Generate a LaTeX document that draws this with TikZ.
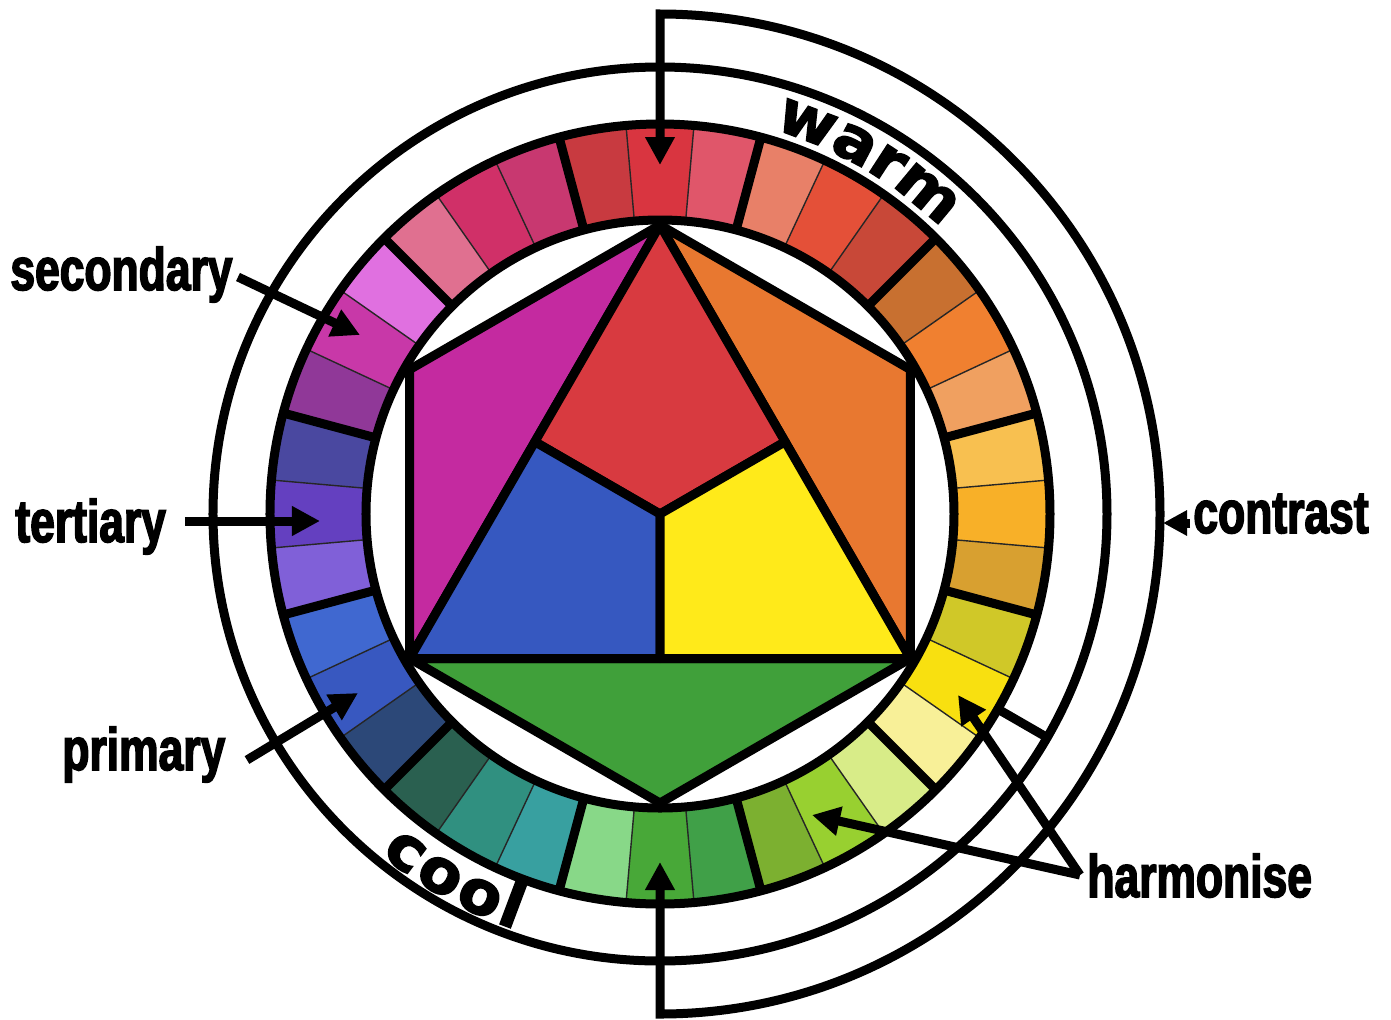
\documentclass[tikz,border=0pt]{standalone}
\usepackage{fontspec}
\usetikzlibrary{arrows.meta,calc}
\newfontfamily\lblfont[UprightFont=* Bold,FakeStretch=0.74,FakeBold=2.5]{Liberation Sans}
\newfontfamily\arcfont[UprightFont=* Bold,FakeStretch=1.05,FakeBold=2.5]{DejaVu Sans}
\definecolor{hexred}{HTML}{D83A40}
\definecolor{hexblue}{HTML}{3658C0}
\definecolor{hexyellow}{HTML}{FFEA1A}
\definecolor{hexmagenta}{HTML}{C42AA0}
\definecolor{hexorange}{HTML}{E87830}
\definecolor{hexgreen}{HTML}{40A03A}
\begin{document}
\begin{tikzpicture}[x=0.5pt,y=0.5pt,
  bold/.style={line width=4.5pt},
  thinsep/.style={line width=0.7pt, draw=black!85},
  region/.style={draw=black, line width=4.5pt, line join=round},
  arr/.style={line width=4.5pt, -{Triangle[length=14pt,width=14pt]}},
  lbl/.style={font=\lblfont\fontsize{30}{36}\selectfont, inner sep=0pt, anchor=base west},
  arcl/.style={font=\arcfont\fontsize{30}{36}\selectfont, inner sep=0pt, anchor=base},
]
\fill[white] (-660,-505) rectangle (731,514);
\useasboundingbox (-660,-505) rectangle (731,514);

% ring segments
\foreach \a/\c in {95/C83A40,85/D93540,75/E0566A,65/E88068,55/E45038,45/C84838,
  35/C87030,25/F08030,15/F0A060,5/F8C050,-5/F8B028,-15/D8A030,
  -25/D0C828,-35/F8E010,-45/F8F098,-55/D8EC88,-65/98D030,-75/7CB030,
  -85/40A048,-95/48A838,-105/88D888,-115/38A0A0,-125/309080,-135/2A6050,
  -145/2C4878,-155/3858C0,-165/4068D0,-175/8060D8,175/6440C0,165/4A48A0,
  155/903898,145/C838A8,135/E070E0,125/E07090,115/D03068,105/C83870}{
  \definecolor{segc}{HTML}{\c}
  \pgfmathsetmacro\b{\a+10}
  \fill[segc] (\a:147pt) arc[start angle=\a, end angle=\b, radius=147pt]
     -- (\b:195pt) arc[start angle=\b, end angle=\a, radius=195pt] -- cycle;
}
\foreach \a in {5,25,35,55,65,85,95,115,125,145,155,175,185,205,215,235,245,265,275,295,305,325,335,355}{
  \draw[thinsep] (\a:147pt) -- (\a:195pt);
}
\foreach \a in {15,45,...,345}{
  \draw[bold] (\a:147pt) -- (\a:195pt);
}
\draw[bold] (0,0) circle[radius=147pt];
\draw[bold] (0,0) circle[radius=195pt];

% hexagon
\coordinate (T) at (90:144.5pt);
\coordinate (UR) at (30:144.5pt);
\coordinate (LR) at (-30:144.5pt);
\coordinate (B) at (-90:144.5pt);
\coordinate (LL) at (-150:144.5pt);
\coordinate (UL) at (150:144.5pt);
\coordinate (C) at (0,0);
\coordinate (M1) at ($(T)!0.5!(LL)$);
\coordinate (M2) at ($(T)!0.5!(LR)$);
\coordinate (M3) at ($(LL)!0.5!(LR)$);
\filldraw[region, fill=hexmagenta] (T) -- (UL) -- (LL) -- cycle;
\filldraw[region, fill=hexorange] (T) -- (UR) -- (LR) -- cycle;
\filldraw[region, fill=hexgreen] (LL) -- (B) -- (LR) -- cycle;
\filldraw[region, fill=hexred] (T) -- (M1) -- (C) -- (M2) -- cycle;
\filldraw[region, fill=hexblue] (M1) -- (LL) -- (M3) -- (C) -- cycle;
\filldraw[region, fill=hexyellow] (C) -- (M3) -- (LR) -- (M2) -- cycle;

% outer circle and tick
\draw[bold] (0,0) circle[radius=223.5pt];
\draw[bold] (-30:195pt) -- (-30:223.5pt);

% contrast bracket
\coordinate (topTip) at (0,349);
\coordinate (botTip) at (0,-348);
\draw[line width=4.5pt, {Triangle[length=14pt,width=14pt]}-{Triangle[length=14pt,width=14pt]}]
  (topTip) -- (0,500) arc[start angle=90, end angle=-90, radius=250pt] -- (botTip);

% labels
\node[lbl] (sec) at (-650,224) {secondary};
\node[lbl] (ter) at (-645,-28) {tertiary};
\node[lbl] (pri) at (-598,-256) {primary};
\node[lbl] (harm) at (427,-383) {harmonise};
\node[lbl] (con) at (533,-19) {contrast};

\coordinate (secStart) at (-422,237);
\coordinate (secTip) at (-300,179);
\coordinate (terStart) at (-475,-7);
\coordinate (terTip) at (-340,-7);
\coordinate (priStart) at (-413,-246);
\coordinate (priTip) at (-302,-179);
\coordinate (harmStart) at (420,-361);
\coordinate (harmTipY) at (298,-181);
\coordinate (harmTipG) at (152,-301);
\coordinate (conStart) at (530,-9);
\coordinate (conTip) at (503,-9);

\draw[arr] (secStart) -- (secTip);
\draw[arr] (terStart) -- (terTip);
\draw[arr] (priStart) -- (priTip);
\draw[arr] (harmStart) -- (harmTipY);
\draw[arr] (harmStart) -- (harmTipG);
\draw[line width=4.5pt, -{Triangle[length=12pt,width=12pt]}] (conStart) -- (conTip);

% warm / cool
\node[arcl, rotate=-20.6] (w1) at (69.4:200.5pt) {w};
\node[arcl, rotate=-27.8] (w2) at (62.2:200.5pt) {a};
\node[arcl, rotate=-33.0] (w3) at (57.0:200.5pt) {r};
\node[arcl, rotate=-39.8] (w4) at (50.2:200.5pt) {m};
\node[arcl, rotate=-37.0] (c1) at (-127.0:220pt) {c};
\node[arcl, rotate=-31.3] (c2) at (-121.3:220pt) {o};
\node[arcl, rotate=-25.2] (c3) at (-115.2:220pt) {o};
\node[arcl, rotate=-20.6] (c4) at (-110.6:220pt) {l};
\end{tikzpicture}
\end{document}
